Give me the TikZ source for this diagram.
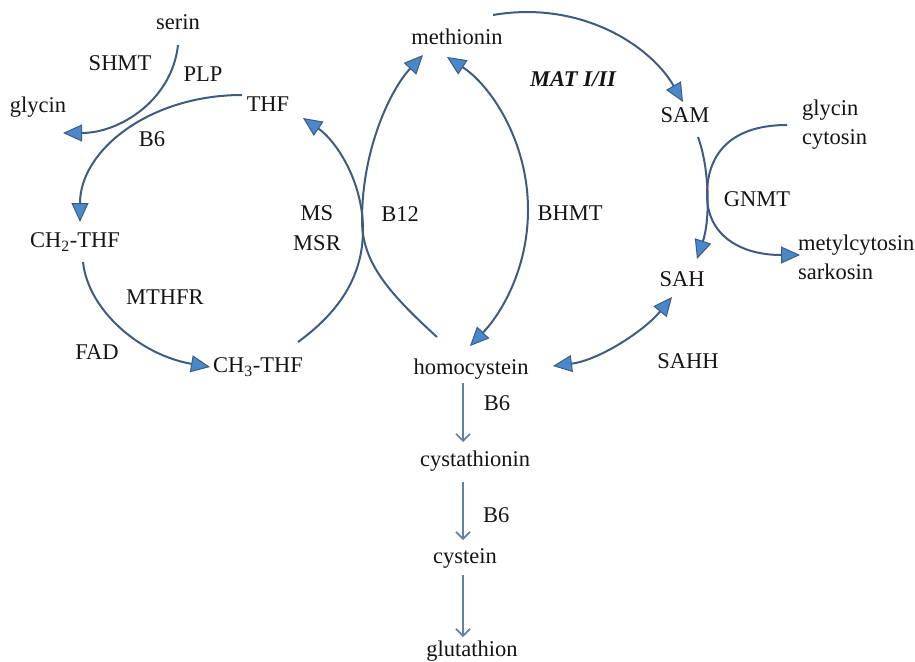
\documentclass[tikz,border=0pt]{standalone}
\usepackage{fontspec}
\setmainfont{Liberation Serif}
\usetikzlibrary{arrows.meta,calc}
\definecolor{linecol}{HTML}{3E5B82}
\definecolor{tipfill}{HTML}{4A88CC}
\definecolor{thincol}{HTML}{6580A3}
\definecolor{txt}{HTML}{141414}
\begin{document}
\begin{tikzpicture}[x=1pt,y=-1pt,
  lab/.style={font=\fontsize{22.5}{29}\selectfont, text=txt, inner sep=1pt},
  tipstyle/.style={},
  conn/.style={draw=linecol, line width=2pt, -{Triangle[length=19pt,width=17pt,fill=tipfill,line width=1pt]}},
  dconn/.style={draw=linecol, line width=2pt, {Triangle[length=19pt,width=17pt,fill=tipfill,line width=1pt]}-{Triangle[length=19pt,width=17pt,fill=tipfill,line width=1pt]}},
  smallarr/.style={draw=thincol, line width=1.7pt, -{Straight Barb[length=7pt,width=14pt,line width=1.7pt]}},
]
\useasboundingbox (0,0) rectangle (915,661);
% nodes
\node[lab] (serin) at (178,22) {serin};
\node[lab] (shmt) at (120,63) {SHMT};
\node[lab] (plp) at (203,74) {PLP};
\node[lab] (glyL) at (38,107) {glycin};
\node[lab] (thf) at (268,104) {THF};
\node[lab] (b6a) at (152,139) {B6};
\node[lab] (ch2) at (75,242) {CH\textsubscript{2}-THF};
\node[lab,anchor=west] (mthfr) at (125,297) {MTHFR\textcolor{gray!50}{\scriptsize.}};
\node[lab] (fad) at (97,352) {FAD};
\node[lab] (ch3) at (258,367) {CH\textsubscript{3}-THF};
\node[lab] (ms) at (317,213) {MS};
\node[lab] (msr) at (317,243) {MSR};
\node[lab] (b12) at (400,214) {B12};
\node[lab] (met) at (457,37) {methionin};
\node[lab,font=\fontsize{22.5}{29}\selectfont\bfseries\itshape] (mat) at (573,79) {MAT I/II};
\node[lab] (bhmt) at (570,213) {BHMT};
\node[lab] (sam) at (685,115) {SAM};
\node[lab,anchor=west,align=left] (glyR) at (801,125) {glycin\\cytosin};
\node[lab] (gnmt) at (757,199) {GNMT};
\node[lab,anchor=west,align=left] (prod) at (797,257) {metylcytosin\\sarkosin};
\node[lab] (sah) at (682,279) {SAH};
\node[lab] (sahh) at (688,361) {SAHH};
\node[lab] (hcy) at (471,369) {homocystein};
\node[lab] (b6b) at (497,403) {B6};
\node[lab] (cysta) at (475,461) {cystathionin};
\node[lab,anchor=west] (b6c) at (482,515) {B6\textcolor{gray!50}{\scriptsize.}};
\node[lab] (cys) at (465,558) {cystein};
\node[lab] (glut) at (472,651) {glutathion};
% connectors
\draw[conn] ($(serin)+(0,23)$) .. controls (172,100) and (120,133) .. ($(glyL)+(25,26)$);
\draw[conn] ($(thf)+(-26,-9)$) .. controls (150,95) and (80,150) .. ($(ch2)+(5,-20)$);
\draw[conn] ($(ch2)+(8,20)$) .. controls (88,310) and (140,355) .. ($(ch3)+(-48,0)$);
\draw[conn] ($(ch3)+(40,-25)$) .. controls (335,315) and (363,280) .. (363,230)
  .. controls (363,180) and (335,140) .. ($(thf)+(35,14)$);
\draw[conn] ($(hcy)+(-34,-32)$) .. controls (385,290) and (362,260) .. (362,220)
  .. controls (362,150) and (390,90) .. ($(met)+(-34,18)$);
\draw[dconn] ($(met)+(-10,20)$) .. controls (490,85) and (528,140) .. (528,210)
  .. controls (528,270) and (500,315) .. ($(hcy)+(-1,-23)$);
\draw[conn] ($(met)+(36,-22)$) .. controls (580,0) and (650,45) .. ($(sam)+(-2,-13)$);
\draw[conn] ($(sam)+(13,22)$) .. controls (710,170) and (710,220) .. ($(sah)+(15,-20)$);
\draw[conn] ($(glyR.west)+(-14,0)$) .. controls (735,125) and (707,150) .. (707,195)
  .. controls (707,235) and (740,255) .. ($(prod.west)+(3,-2)$);
\draw[dconn] ($(hcy)+(82,-3)$) .. controls (600,360) and (645,330) .. ($(sah)+(-10,18)$);
\draw[smallarr] ($(hcy)+(-8,14)$) -- ($(cysta)+(-12,-19)$);
\draw[smallarr] ($(cysta)+(-12,21)$) -- ($(cys)+(-2,-18)$);
\draw[smallarr] ($(cys)+(-2,17)$) -- ($(glut)+(-9,-14)$);
\end{tikzpicture}
\end{document}
